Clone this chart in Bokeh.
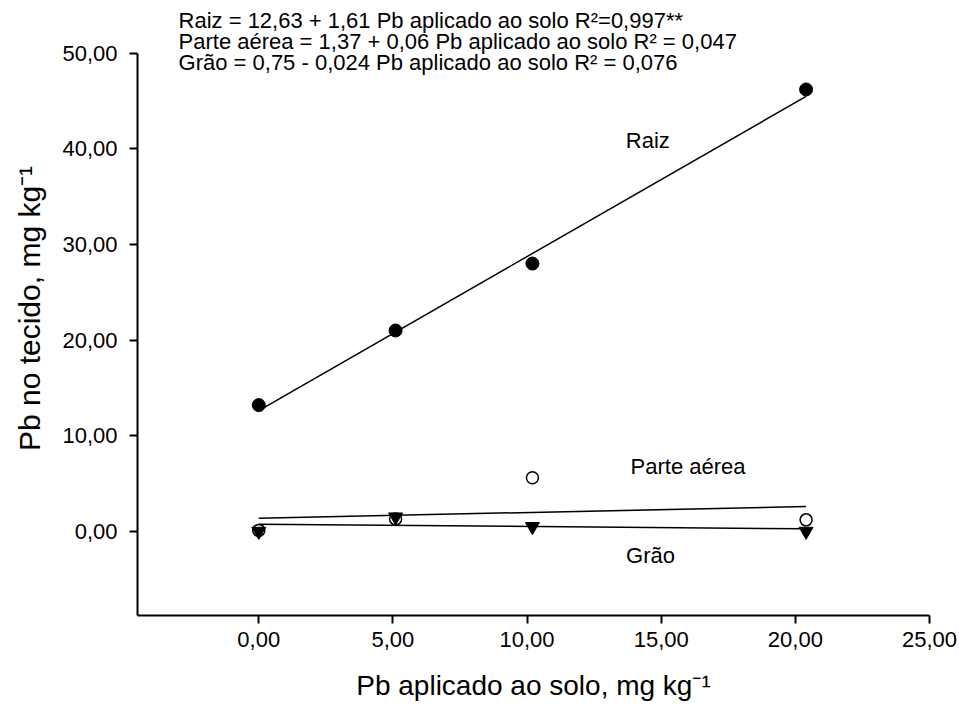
from bokeh.plotting import figure
from bokeh.models import Range1d, FixedTicker, Label
from bokeh.embed import file_html
from bokeh.resources import INLINE

# ---- data ----
dose = [0.0, 5.1, 10.2, 20.4]
raiz = [13.2, 21.0, 28.0, 46.2]
parte_aerea = [0.1, 1.3, 5.6, 1.2]
grao = [0.0, 1.5, 0.5, 0.0]

fit_names = ["Raiz", "Parte aérea", "Grão"]
fit_intercept = [12.63, 1.37, 0.75]
fit_slope = [1.61, 0.06, -0.024]

x_ticks = [0, 5, 10, 15, 20, 25]
x_tick_labels = ["0,00", "5,00", "10,00", "15,00", "20,00", "25,00"]
y_ticks = [0, 10, 20, 30, 40, 50]
y_tick_labels = ["0,00", "10,00", "20,00", "30,00", "40,00", "50,00"]

equations = [
    "Raiz = 12,63 + 1,61 Pb aplicado ao solo R²=0,997**",
    "Parte aérea = 1,37 + 0,06 Pb aplicado ao solo R² = 0,047",
    "Grão = 0,75 - 0,024 Pb aplicado ao solo  R² = 0,076",
]

FONT = "Liberation Sans"

p = figure(
    width=959, height=713,
    x_range=Range1d(-4.52, 25), y_range=Range1d(-8.8, 55.4),
    output_backend="svg", toolbar_location=None,
    min_border_left=137, min_border_right=30,
    min_border_top=1, min_border_bottom=98,
)
p.outline_line_color = None
p.xgrid.grid_line_color = None
p.ygrid.grid_line_color = None
p.background_fill_color = "white"
p.border_fill_color = "white"

for ax in (p.xaxis[0], p.yaxis[0]):
    ax.axis_line_color = "black"
    ax.axis_line_width = 2
    ax.major_tick_line_color = "black"
    ax.major_tick_line_width = 2
    ax.major_tick_out = 8
    ax.major_tick_in = 0
    ax.minor_tick_line_color = None
    ax.major_label_text_font = FONT
    ax.major_label_text_font_size = "22px"
    ax.major_label_text_color = "black"
    ax.axis_label_text_font = FONT
    ax.axis_label_text_font_style = "normal"
    ax.axis_label_text_color = "black"

p.xaxis.axis_label_text_font_size = "28px"
p.yaxis.axis_label_text_font_size = "30px"
p.yaxis.bounds = (-8.8, 50)
p.xaxis.ticker = FixedTicker(ticks=x_ticks)
p.xaxis.major_label_overrides = {t: s for t, s in zip(x_ticks, x_tick_labels)}
p.yaxis.ticker = FixedTicker(ticks=y_ticks)
p.yaxis.major_label_overrides = {t: s for t, s in zip(y_ticks, y_tick_labels)}
p.xaxis.major_label_standoff = 8
p.yaxis.major_label_standoff = 12
p.xaxis.axis_label = "Pb aplicado ao solo, mg kg⁻¹"
p.yaxis.axis_label = "Pb no tecido, mg kg⁻¹"
p.xaxis.axis_label_standoff = 20
p.yaxis.axis_label_standoff = 13

# regression lines
x0, x1 = dose[0], dose[-1]
for a, b in zip(fit_intercept, fit_slope):
    p.line([x0, x1], [a + b * x0, a + b * x1], line_color="black", line_width=1.5)

# points
p.scatter(dose, raiz, marker="circle", size=13, fill_color="black", line_color="black")
p.scatter(dose, parte_aerea, marker="circle", size=12, fill_color="white",
          line_color="black", line_width=1.5)
p.scatter(dose, grao, marker="inverted_triangle", size=14, fill_color="black",
          line_color="black")

# series labels
for name, (lx, ly) in zip(fit_names, [(14.5, 40.9), (16.0, 6.8), (14.6, -2.5)]):
    p.add_layout(Label(x=lx, y=ly, text=name, text_align="center",
                       text_baseline="middle", text_font=FONT,
                       text_font_size="22px", text_color="black"))

# equations
for eq, ey in zip(equations, [53.42, 51.22, 49.03]):
    p.add_layout(Label(x=-2.99, y=ey, text=eq, text_align="left",
                       text_baseline="middle", text_font=FONT,
                       text_font_size="22px", text_color="black"))

open("out.html", "w").write(file_html(p, INLINE))
